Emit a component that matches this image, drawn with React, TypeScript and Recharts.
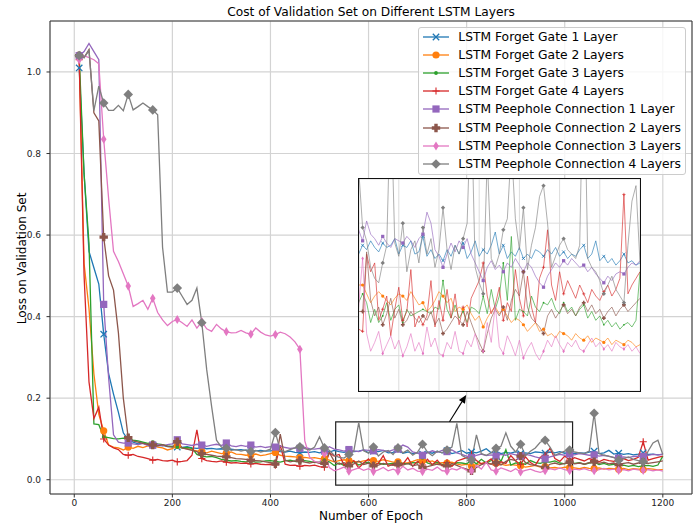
import React from 'react';
import {
  LineChart,
  Line,
  XAxis,
  YAxis,
  CartesianGrid,
  Legend,
  ReferenceArea,
  ReferenceLine,
} from 'recharts';

const FONT = '"DejaVu Sans", sans-serif';

// epochs (x values)
const EPOCHS = [
  10, 20, 30, 40, 50, 60, 70, 80, 90, 100,
  110, 120, 130, 140, 150, 160, 170, 180, 190, 200,
  210, 220, 230, 240, 250, 260, 270, 280, 290, 300,
  310, 320, 330, 340, 350, 360, 370, 380, 390, 400,
  410, 420, 430, 440, 450, 460, 470, 480, 490, 500,
  510, 520, 530, 540, 550, 560, 570, 580, 590, 600,
  610, 620, 630, 640, 650, 660, 670, 680, 690, 700,
  710, 720, 730, 740, 750, 760, 770, 780, 790, 800,
  810, 820, 830, 840, 850, 860, 870, 880, 890, 900,
  910, 920, 930, 940, 950, 960, 970, 980, 990, 1000,
  1010, 1020, 1030, 1040, 1050, 1060, 1070, 1080, 1090, 1100,
  1110, 1120, 1130, 1140, 1150, 1160, 1170, 1180, 1190, 1200,
];

const FORGET_1 = [
  1.01, 0.75, 0.56, 0.52, 0.48, 0.357, 0.26, 0.21, 0.165, 0.115,
  0.097, 0.092, 0.088, 0.09, 0.086, 0.085, 0.083, 0.084, 0.081, 0.082,
  0.08, 0.079, 0.081, 0.078, 0.077, 0.078, 0.076, 0.077, 0.075, 0.076,
  0.074, 0.075, 0.073, 0.074, 0.072, 0.073, 0.071, 0.072, 0.07, 0.071,
  0.072, 0.069, 0.068, 0.07, 0.067, 0.066, 0.068, 0.067, 0.069, 0.066,
  0.07, 0.068, 0.072, 0.069, 0.067, 0.071, 0.069, 0.07, 0.073, 0.066,
  0.07, 0.069, 0.072, 0.066, 0.067, 0.074, 0.065, 0.068, 0.064, 0.066,
  0.063, 0.068, 0.065, 0.07, 0.066, 0.071, 0.064, 0.067, 0.072, 0.065,
  0.068, 0.066, 0.07, 0.076, 0.066, 0.07, 0.064, 0.067, 0.065, 0.069,
  0.064, 0.066, 0.064, 0.068, 0.067, 0.065, 0.068, 0.066, 0.069, 0.065,
  0.067, 0.064, 0.066, 0.065, 0.068, 0.07, 0.064, 0.066, 0.072, 0.063,
  0.065, 0.062, 0.064, 0.061, 0.063, 0.066, 0.062, 0.063, 0.061, 0.062,
];

const FORGET_2 = [
  1.04, 0.53, 0.42, 0.26, 0.16, 0.12, 0.085, 0.08, 0.078, 0.073,
  0.08, 0.077, 0.082, 0.079, 0.083, 0.085, 0.08, 0.078, 0.073, 0.076,
  0.084, 0.078, 0.076, 0.073, 0.071, 0.069, 0.066, 0.07, 0.067, 0.064,
  0.065, 0.068, 0.063, 0.062, 0.06, 0.061, 0.063, 0.059, 0.061, 0.064,
  0.067, 0.06, 0.058, 0.057, 0.056, 0.054, 0.055, 0.053, 0.054, 0.052,
  0.052, 0.048, 0.044, 0.047, 0.049, 0.047, 0.045, 0.043, 0.046, 0.048,
  0.047, 0.045, 0.049, 0.046, 0.043, 0.044, 0.04, 0.042, 0.045, 0.049,
  0.047, 0.044, 0.046, 0.04, 0.042, 0.041, 0.043, 0.039, 0.036, 0.038,
  0.033, 0.037, 0.04, 0.042, 0.039, 0.041, 0.038, 0.035, 0.037, 0.036,
  0.034, 0.031, 0.033, 0.035, 0.031, 0.032, 0.029, 0.03, 0.028, 0.031,
  0.03, 0.029, 0.027, 0.03, 0.028, 0.027, 0.029, 0.026, 0.028, 0.027,
  0.026, 0.028, 0.025, 0.027, 0.026, 0.025, 0.027, 0.026, 0.024, 0.025,
];

const FORGET_3 = [
  1.04, 0.75, 0.58, 0.137, 0.135, 0.105, 0.103, 0.101, 0.1, 0.102,
  0.1, 0.097, 0.095, 0.092, 0.089, 0.092, 0.088, 0.086, 0.083, 0.081,
  0.08, 0.078, 0.079, 0.077, 0.062, 0.058, 0.056, 0.057, 0.054, 0.05,
  0.048, 0.046, 0.047, 0.045, 0.044, 0.045, 0.043, 0.044, 0.046, 0.047,
  0.045, 0.043, 0.046, 0.048, 0.045, 0.044, 0.047, 0.045, 0.042, 0.044,
  0.048, 0.044, 0.035, 0.041, 0.035, 0.038, 0.044, 0.036, 0.041, 0.043,
  0.035, 0.041, 0.038, 0.039, 0.04, 0.041, 0.04, 0.039, 0.042, 0.041,
  0.054, 0.041, 0.037, 0.043, 0.037, 0.04, 0.035, 0.042, 0.041, 0.039,
  0.047, 0.039, 0.05, 0.041, 0.047, 0.062, 0.045, 0.074, 0.036, 0.041,
  0.04, 0.038, 0.047, 0.042, 0.04, 0.044, 0.043, 0.046, 0.041, 0.039,
  0.044, 0.04, 0.042, 0.038, 0.041, 0.043, 0.037, 0.04, 0.036, 0.038,
  0.034, 0.036, 0.033, 0.035, 0.032, 0.034, 0.035, 0.033, 0.036, 0.058,
];

const FORGET_4 = [
  1.03, 0.5, 0.24, 0.15, 0.178, 0.1, 0.085, 0.078, 0.074, 0.062,
  0.06, 0.062, 0.057, 0.055, 0.052, 0.048, 0.05, 0.047, 0.046, 0.048,
  0.044, 0.045, 0.047, 0.06, 0.122, 0.052, 0.047, 0.045, 0.044, 0.046,
  0.043, 0.041, 0.042, 0.04, 0.041, 0.039, 0.04, 0.038, 0.037, 0.038,
  0.036, 0.085, 0.038, 0.035, 0.036, 0.033, 0.035, 0.034, 0.036, 0.032,
  0.031, 0.066, 0.058, 0.062, 0.036, 0.041, 0.047, 0.029, 0.041, 0.051,
  0.036, 0.04, 0.059, 0.033, 0.038, 0.034, 0.038, 0.054, 0.033, 0.045,
  0.036, 0.05, 0.037, 0.048, 0.034, 0.042, 0.033, 0.046, 0.05, 0.054,
  0.062, 0.047, 0.039, 0.043, 0.051, 0.036, 0.044, 0.04, 0.059, 0.046,
  0.038, 0.056, 0.042, 0.035, 0.055, 0.06, 0.077, 0.052, 0.045, 0.058,
  0.048, 0.054, 0.05, 0.046, 0.052, 0.048, 0.044, 0.05, 0.047, 0.045,
  0.049, 0.052, 0.047, 0.05, 0.055, 0.093, 0.048, 0.052, 0.055, 0.058,
];

const PEEPHOLE_1 = [
  1.04, 1.05, 1.07, 1.05, 1.03, 0.43, 0.25, 0.11, 0.092, 0.09,
  0.09, 0.088, 0.086, 0.089, 0.084, 0.085, 0.087, 0.083, 0.086, 0.088,
  0.098, 0.088, 0.086, 0.084, 0.087, 0.085, 0.082, 0.085, 0.087, 0.084,
  0.09, 0.083, 0.081, 0.084, 0.082, 0.085, 0.08, 0.082, 0.079, 0.081,
  0.08, 0.083, 0.079, 0.077, 0.078, 0.077, 0.079, 0.076, 0.075, 0.077,
  0.072, 0.081, 0.075, 0.073, 0.07, 0.074, 0.071, 0.069, 0.073, 0.072,
  0.071, 0.074, 0.072, 0.069, 0.073, 0.075, 0.085, 0.08, 0.068, 0.065,
  0.06, 0.066, 0.071, 0.067, 0.072, 0.069, 0.073, 0.066, 0.062, 0.058,
  0.054, 0.06, 0.063, 0.059, 0.061, 0.058, 0.062, 0.06, 0.064, 0.061,
  0.058, 0.062, 0.06, 0.056, 0.053, 0.051, 0.056, 0.059, 0.062, 0.06,
  0.063, 0.061, 0.064, 0.062, 0.06, 0.061, 0.058, 0.06, 0.057, 0.055,
  0.053, 0.056, 0.054, 0.057, 0.058, 0.057, 0.06, 0.062, 0.061, 0.063,
];

const PEEPHOLE_2 = [
  1.04, 1.035, 1.055, 0.9, 0.88, 0.595, 0.5, 0.465, 0.36, 0.2,
  0.103, 0.095, 0.092, 0.089, 0.087, 0.085, 0.083, 0.086, 0.082, 0.08,
  0.093, 0.078, 0.075, 0.072, 0.069, 0.064, 0.062, 0.06, 0.058, 0.057,
  0.056, 0.054, 0.052, 0.051, 0.05, 0.048, 0.047, 0.046, 0.044, 0.042,
  0.039, 0.112, 0.048, 0.044, 0.046, 0.047, 0.043, 0.041, 0.044, 0.04,
  0.04, 0.067, 0.045, 0.038, 0.042, 0.034, 0.039, 0.046, 0.037, 0.041,
  0.034, 0.036, 0.04, 0.037, 0.035, 0.038, 0.036, 0.04, 0.034, 0.037,
  0.03, 0.032, 0.035, 0.038, 0.036, 0.034, 0.04, 0.035, 0.03, 0.026,
  0.022, 0.03, 0.037, 0.041, 0.038, 0.042, 0.036, 0.045, 0.05, 0.047,
  0.058, 0.042, 0.037, 0.035, 0.033, 0.03, 0.038, 0.041, 0.037, 0.04,
  0.043, 0.039, 0.041, 0.038, 0.042, 0.044, 0.04, 0.043, 0.039, 0.041,
  0.037, 0.04, 0.042, 0.038, 0.041, 0.043, 0.04, 0.042, 0.044, 0.046,
];

const PEEPHOLE_3 = [
  1.03, 1.04, 1.035, 1.03, 1.02, 0.835, 0.69, 0.56, 0.535, 0.505,
  0.475, 0.425, 0.432, 0.44, 0.418, 0.445, 0.41, 0.392, 0.378, 0.388,
  0.393, 0.385, 0.376, 0.392, 0.372, 0.388, 0.37, 0.364, 0.381, 0.37,
  0.363, 0.36, 0.361, 0.366, 0.36, 0.357, 0.372, 0.362, 0.355, 0.352,
  0.356, 0.362, 0.358, 0.35, 0.338, 0.32, 0.095, 0.055, 0.045, 0.042,
  0.064, 0.03, 0.022, 0.026, 0.031, 0.021, 0.025, 0.029, 0.023, 0.027,
  0.02, 0.024, 0.03, 0.022, 0.026, 0.021, 0.033, 0.024, 0.028, 0.021,
  0.02, 0.026, 0.023, 0.031, 0.022, 0.021, 0.027, 0.024, 0.03, 0.023,
  0.022, 0.035, 0.026, 0.043, 0.024, 0.021, 0.029, 0.025, 0.02, 0.027,
  0.019, 0.023, 0.026, 0.021, 0.018, 0.022, 0.027, 0.024, 0.029, 0.025,
  0.022, 0.026, 0.024, 0.027, 0.023, 0.022, 0.025, 0.028, 0.024, 0.026,
  0.023, 0.025, 0.022, 0.026, 0.024, 0.023, 0.025, 0.022, 0.024, 0.021,
];

const PEEPHOLE_4 = [
  1.04, 1.035, 1.053, 0.905, 0.965, 0.924, 0.906, 0.906, 0.918, 0.905,
  0.945, 0.907, 0.915, 0.924, 0.915, 0.907, 0.895, 0.57, 0.46, 0.46,
  0.47, 0.45, 0.43, 0.44, 0.47, 0.385, 0.27, 0.18, 0.097, 0.08,
  0.077, 0.072, 0.074, 0.07, 0.073, 0.069, 0.072, 0.068, 0.071, 0.075,
  0.116, 0.072, 0.069, 0.074, 0.078, 0.081, 0.076, 0.073, 0.08, 0.105,
  0.078, 0.072, 0.06, 0.055, 0.053, 0.062, 0.07, 0.14, 0.071, 0.065,
  0.08, 0.058, 0.068, 0.072, 0.062, 0.078, 0.066, 0.073, 0.06, 0.068,
  0.087, 0.068, 0.059, 0.07, 0.066, 0.073, 0.08, 0.138, 0.06, 0.053,
  0.048, 0.11, 0.064, 0.06, 0.066, 0.077, 0.082, 0.115, 0.082, 0.068,
  0.087, 0.059, 0.07, 0.078, 0.092, 0.097, 0.08, 0.06, 0.065, 0.07,
  0.073, 0.068, 0.066, 0.064, 0.07, 0.163, 0.064, 0.06, 0.058, 0.054,
  0.048, 0.052, 0.056, 0.05, 0.047, 0.044, 0.07, 0.09, 0.097, 0.062,
];

const X_TICKS = [0, 200, 400, 600, 800, 1000, 1200];
const Y_TICKS = [0, 0.2, 0.4, 0.6, 0.8, 1.0];
const INSET_X_TICKS = [600, 700, 800, 900, 1000, 1100];
const INSET_Y_TICKS = [0.02, 0.04, 0.06, 0.08];

// zoomed region marked on the main axes, and the arrow to the inset
const ZOOM_BOX = { x1: 533, x2: 1016, y1: -0.013, y2: 0.142 };
const ARROW = [
  { x: 765, y: 0.142 },
  { x: 799, y: 0.2076 },
];

const SERIES = [
  { key: 'fg1', name: 'LSTM Forget Gate 1 Layer', color: '#1f77b4', marker: 'x', values: FORGET_1 },
  { key: 'fg2', name: 'LSTM Forget Gate 2 Layers', color: '#ff7f0e', marker: 'o', values: FORGET_2 },
  { key: 'fg3', name: 'LSTM Forget Gate 3 Layers', color: '#2ca02c', marker: '.', values: FORGET_3 },
  { key: 'fg4', name: 'LSTM Forget Gate 4 Layers', color: '#d62728', marker: '+', values: FORGET_4 },
  { key: 'ph1', name: 'LSTM Peephole Connection 1 Layer', color: '#9467bd', marker: 's', values: PEEPHOLE_1 },
  { key: 'ph2', name: 'LSTM Peephole Connection 2 Layers', color: '#8c564b', marker: 'P', values: PEEPHOLE_2 },
  { key: 'ph3', name: 'LSTM Peephole Connection 3 Layers', color: '#e377c2', marker: 'd', values: PEEPHOLE_3 },
  { key: 'ph4', name: 'LSTM Peephole Connection 4 Layers', color: '#7f7f7f', marker: 'D', values: PEEPHOLE_4 },
];

const rows = EPOCHS.map((epoch, i) => {
  const row: Record<string, number> = { epoch };
  SERIES.forEach((s) => {
    row[s.key] = s.values[i];
  });
  return row;
});

function drawMarker(shape: string, cx: number, cy: number, color: string, s: number, key: string) {
  switch (shape) {
    case 'x': {
      const r = 3.2 * s;
      return (
        <path
          key={key}
          d={`M${cx - r},${cy - r}L${cx + r},${cy + r}M${cx - r},${cy + r}L${cx + r},${cy - r}`}
          stroke={color}
          strokeWidth={1.3 * Math.max(s, 0.6)}
          fill="none"
        />
      );
    }
    case 'o':
      return <circle key={key} cx={cx} cy={cy} r={3.6 * s} fill={color} />;
    case '.':
      return <circle key={key} cx={cx} cy={cy} r={1.9 * s} fill={color} />;
    case '+': {
      const r = 3.6 * s;
      return (
        <path
          key={key}
          d={`M${cx - r},${cy}L${cx + r},${cy}M${cx},${cy - r}L${cx},${cy + r}`}
          stroke={color}
          strokeWidth={1.1 * Math.max(s, 0.6)}
          fill="none"
        />
      );
    }
    case 's': {
      const h = 3.6 * s;
      return <rect key={key} x={cx - h} y={cy - h} width={2 * h} height={2 * h} fill={color} />;
    }
    case 'P': {
      const a = 4.2 * s;
      const b = 1.7 * s;
      const pts = [
        [cx - b, cy - a], [cx + b, cy - a], [cx + b, cy - b], [cx + a, cy - b],
        [cx + a, cy + b], [cx + b, cy + b], [cx + b, cy + a], [cx - b, cy + a],
        [cx - b, cy + b], [cx - a, cy + b], [cx - a, cy - b], [cx - b, cy - b],
      ];
      return <polygon key={key} points={pts.map((p) => p.join(',')).join(' ')} fill={color} />;
    }
    case 'd': {
      const w = 2.8 * s;
      const h = 4.6 * s;
      return (
        <polygon
          key={key}
          points={`${cx},${cy - h} ${cx + w},${cy} ${cx},${cy + h} ${cx - w},${cy}`}
          fill={color}
        />
      );
    }
    case 'D': {
      const r = 4.8 * s;
      return (
        <polygon
          key={key}
          points={`${cx},${cy - r} ${cx + r},${cy} ${cx},${cy + r} ${cx - r},${cy}`}
          fill={color}
        />
      );
    }
    default:
      return <g key={key} />;
  }
}

// markers on every 5th point (every 50 epochs)
const everyFifth = (shape: string, color: string, scale: number) => (props: any) => {
  const { cx, cy, index } = props;
  const key = `m-${index}`;
  if (index % 5 !== 0 || cx == null || cy == null) return <g key={key} />;
  return drawMarker(shape, cx, cy, color, scale, key);
};

const arrowShape = (p: any) => {
  const { x1, y1, x2, y2 } = p;
  const ang = Math.atan2(y2 - y1, x2 - x1);
  const len = 8;
  const half = 3.6;
  const bx = x2 - len * Math.cos(ang);
  const by = y2 - len * Math.sin(ang);
  const nx = -Math.sin(ang) * half;
  const ny = Math.cos(ang) * half;
  return (
    <g>
      <line x1={x1} y1={y1} x2={bx} y2={by} stroke="#000" strokeWidth={1.1} />
      <polygon points={`${x2},${y2} ${bx + nx},${by + ny} ${bx - nx},${by - ny}`} fill="#000" />
    </g>
  );
};

function LegendBox() {
  return (
    <div
      style={{
        width: 268,
        height: 148,
        boxSizing: 'border-box',
        border: '1px solid #cccccc',
        borderRadius: 3,
        background: 'rgba(255,255,255,0.8)',
        position: 'relative',
        fontFamily: FONT,
        fontSize: 12.3,
        color: '#000',
      }}
    >
      {SERIES.map((s, i) => (
        <div
          key={s.key}
          style={{
            position: 'absolute',
            left: 0,
            top: -0.3 + i * 18.18,
            height: 18,
            display: 'flex',
            alignItems: 'center',
            whiteSpace: 'nowrap',
          }}
        >
          <svg width={26} height={18} style={{ marginLeft: 4, display: 'block' }}>
            <line x1={0} y1={9} x2={26} y2={9} stroke={s.color} strokeWidth={1.3} />
            {drawMarker(s.marker, 13, 9, s.color, 1, 'lm')}
          </svg>
          <span style={{ marginLeft: 9.3, lineHeight: '18px' }}>{s.name}</span>
        </div>
      ))}
    </div>
  );
}

const tickStyle = { fontSize: 9, fill: '#222', fontFamily: FONT };

export default function App() {
  return (
    <div style={{ position: 'absolute', left: 0, top: 0, width: 697, height: 527, background: '#fff' }}>
      <div
        style={{
          position: 'absolute',
          left: 50,
          width: 642,
          top: 5.6,
          textAlign: 'center',
          fontFamily: FONT,
          fontSize: 12.2,
          lineHeight: '12px',
          color: '#000',
          whiteSpace: 'nowrap',
        }}
      >
        Cost of Validation Set on Different LSTM Layers
      </div>

      <div style={{ position: 'absolute', left: 0, top: 0 }}>
        <LineChart width={697} height={527} data={rows} margin={{ top: 21, right: 5, bottom: 0, left: 0 }}>
          <CartesianGrid stroke="#d3d3d3" strokeWidth={1.2} />
          <XAxis
            dataKey="epoch"
            type="number"
            domain={[-49.5, 1259.5]}
            ticks={X_TICKS}
            height={33}
            axisLine={false}
            tickLine={{ stroke: '#333' }}
            tickSize={3.5}
            tickMargin={2.5}
            tick={tickStyle}
            label={{
              content: () => (
                <text x={371} y={519.5} textAnchor="middle" fontFamily={FONT} fontSize={12} fill="#000">
                  Number of Epoch
                </text>
              ),
            }}
          />
          <YAxis
            type="number"
            domain={[-0.035, 1.125]}
            ticks={Y_TICKS}
            width={50}
            axisLine={false}
            tickLine={{ stroke: '#333' }}
            tickSize={3.5}
            tickMargin={5.5}
            tick={tickStyle}
            tickFormatter={(v: number) => v.toFixed(1)}
            label={{
              content: () => (
                <text
                  x={26}
                  y={258.5}
                  transform="rotate(-90 26 258.5)"
                  textAnchor="middle"
                  fontFamily={FONT}
                  fontSize={12}
                  fill="#000"
                >
                  Loss on Validation Set
                </text>
              ),
            }}
          />
          {SERIES.map((s) => (
            <Line
              key={s.key}
              type="linear"
              dataKey={s.key}
              name={s.name}
              stroke={s.color}
              strokeWidth={1.3}
              dot={everyFifth(s.marker, s.color, 1)}
              activeDot={false}
              isAnimationActive={false}
            />
          ))}
          <ReferenceArea
            x1={ZOOM_BOX.x1}
            x2={ZOOM_BOX.x2}
            y1={ZOOM_BOX.y1}
            y2={ZOOM_BOX.y2}
            fill="none"
            stroke="#222"
            strokeWidth={1.2}
            ifOverflow="visible"
          />
          <ReferenceLine segment={ARROW} ifOverflow="visible" shape={arrowShape} />
          <ReferenceArea
            x1={-49.5}
            x2={1259.5}
            y1={-0.035}
            y2={1.125}
            fill="none"
            stroke="#333"
            strokeWidth={1}
            ifOverflow="visible"
          />
          <Legend
            layout="vertical"
            align="center"
            verticalAlign="middle"
            content={() => <LegendBox />}
            wrapperStyle={{ left: 418, top: 27, width: 268, height: 148, zIndex: 5 }}
          />
        </LineChart>
      </div>

      <div
        style={{
          position: 'absolute',
          left: 358,
          top: 178,
          width: 281,
          height: 212,
          border: '1px solid #111',
          background: '#fff',
        }}
      >
        <LineChart width={281} height={212} data={rows} margin={{ top: 0, right: 0, bottom: 0, left: 0 }}>
          <CartesianGrid stroke="#dcdcdc" strokeWidth={1} />
          <XAxis dataKey="epoch" type="number" domain={[501, 1200]} ticks={INSET_X_TICKS} hide allowDataOverflow />
          <YAxis type="number" domain={[0.004, 0.1]} ticks={INSET_Y_TICKS} hide allowDataOverflow />
          {SERIES.map((s) => (
            <Line
              key={s.key}
              type="linear"
              dataKey={s.key}
              stroke={s.color}
              strokeWidth={0.8}
              strokeOpacity={0.8}
              dot={everyFifth(s.marker, s.color, 0.45)}
              activeDot={false}
              isAnimationActive={false}
            />
          ))}
        </LineChart>
      </div>
    </div>
  );
}
